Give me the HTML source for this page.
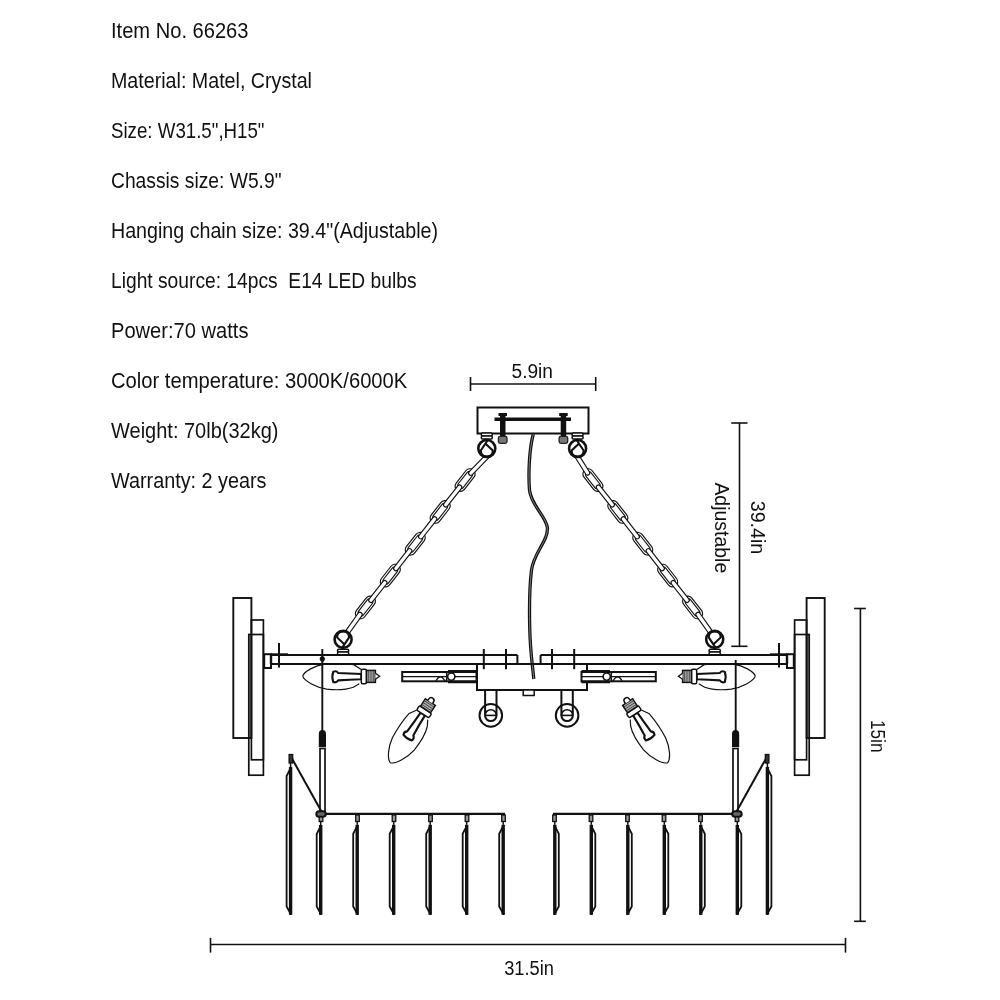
<!DOCTYPE html>
<html><head><meta charset="utf-8"><style>
html,body{margin:0;padding:0;background:#fff;width:1000px;height:1000px;overflow:hidden}
svg{display:block;will-change:transform}
text{font-family:"Liberation Sans",sans-serif;fill:#111;white-space:pre}
</style></head><body>
<svg width="1000" height="1000" viewBox="0 0 1000 1000" stroke="#111" fill="none">
<text stroke="none" x="111.0" y="37.6" font-size="22" textLength="137.5" lengthAdjust="spacingAndGlyphs">Item No. 66263</text>
<text stroke="none" x="111.0" y="87.6" font-size="22" textLength="201.0" lengthAdjust="spacingAndGlyphs">Material: Matel, Crystal</text>
<text stroke="none" x="111.0" y="137.6" font-size="22" textLength="153.5" lengthAdjust="spacingAndGlyphs">Size: W31.5&quot;,H15&quot;</text>
<text stroke="none" x="111.0" y="187.6" font-size="22" textLength="170.5" lengthAdjust="spacingAndGlyphs">Chassis size: W5.9&quot;</text>
<text stroke="none" x="111.0" y="237.6" font-size="22" textLength="327.0" lengthAdjust="spacingAndGlyphs">Hanging chain size: 39.4&quot;(Adjustable)</text>
<text stroke="none" x="111.0" y="287.6" font-size="22" textLength="305.5" lengthAdjust="spacingAndGlyphs">Light source: 14pcs  E14 LED bulbs</text>
<text stroke="none" x="111.0" y="337.6" font-size="22" textLength="137.5" lengthAdjust="spacingAndGlyphs">Power:70 watts</text>
<text stroke="none" x="111.0" y="387.6" font-size="22" textLength="296.3" lengthAdjust="spacingAndGlyphs">Color temperature: 3000K/6000K</text>
<text stroke="none" x="111.0" y="437.6" font-size="22" textLength="167.5" lengthAdjust="spacingAndGlyphs">Weight: 70lb(32kg)</text>
<text stroke="none" x="111.0" y="487.6" font-size="22" textLength="155.5" lengthAdjust="spacingAndGlyphs">Warranty: 2 years</text>
<line x1="470.5" y1="384" x2="595.7" y2="384" stroke-width="1.6"/>
<line x1="470.5" y1="377" x2="470.5" y2="391" stroke-width="1.6"/>
<line x1="595.7" y1="377" x2="595.7" y2="391" stroke-width="1.6"/>
<text stroke="none" x="511.5" y="378" font-size="19.5" textLength="41.5" lengthAdjust="spacingAndGlyphs">5.9in</text>
<line x1="739.5" y1="423" x2="739.5" y2="646.3" stroke-width="1.6"/>
<line x1="731.3" y1="423" x2="747.5" y2="423" stroke-width="1.6"/>
<line x1="731.3" y1="646.3" x2="747.5" y2="646.3" stroke-width="1.6"/>
<text stroke="none" transform="translate(750.7,500.7) rotate(90)" x="0" y="0" font-size="21" textLength="53.6" lengthAdjust="spacingAndGlyphs">39.4in</text>
<text stroke="none" transform="translate(714.5,482.4) rotate(90)" x="0" y="0" font-size="20" textLength="90.8" lengthAdjust="spacingAndGlyphs">Adjustable</text>
<line x1="860.4" y1="608.5" x2="860.4" y2="921.3" stroke-width="1.6"/>
<line x1="854.1" y1="608.5" x2="865.8" y2="608.5" stroke-width="1.6"/>
<line x1="854.1" y1="921.3" x2="865.8" y2="921.3" stroke-width="1.6"/>
<text stroke="none" transform="translate(871.1,719.9) rotate(90)" x="0" y="0" font-size="21" textLength="32.6" lengthAdjust="spacingAndGlyphs">15in</text>
<line x1="210.5" y1="944.5" x2="845.5" y2="944.5" stroke-width="1.6"/>
<line x1="210.5" y1="937.9" x2="210.5" y2="952.6" stroke-width="1.6"/>
<line x1="845.5" y1="937.9" x2="845.5" y2="952.6" stroke-width="1.6"/>
<text stroke="none" x="504.2" y="975.2" font-size="19.5" textLength="49.8" lengthAdjust="spacingAndGlyphs">31.5in</text>
<rect x="477.5" y="407.5" width="111" height="26" fill="#fff" stroke-width="2"/>
<rect x="494.5" y="417.5" width="76.5" height="3.5" fill="#111" stroke="none"/>
<rect x="500.0" y="414" width="5.5" height="22.5" fill="#111" stroke="none"/>
<rect x="498.5" y="413" width="8.5" height="3" fill="#111" stroke="none"/>
<rect x="498.4" y="436.3" width="8.6" height="7" rx="1.8" fill="#777" stroke="#222" stroke-width="1.3"/>
<rect x="560.6999999999999" y="414" width="5.5" height="22.5" fill="#111" stroke="none"/>
<rect x="559.1999999999999" y="413" width="8.5" height="3" fill="#111" stroke="none"/>
<rect x="559.1" y="436.3" width="8.6" height="7" rx="1.8" fill="#777" stroke="#222" stroke-width="1.3"/>
<g transform="translate(465.10,480.10) rotate(128.07)">
<rect x="-13" y="-5.2" width="26" height="10.4" rx="5.2" fill="#fff" stroke-width="1.15"/>
<rect x="-9.5" y="-3.1" width="19" height="6.2" rx="2.4" fill="#fff" stroke-width="1.1"/>
</g>
<g transform="translate(440.18,511.93) rotate(128.07)">
<rect x="-13" y="-5.2" width="26" height="10.4" rx="5.2" fill="#fff" stroke-width="1.15"/>
<rect x="-9.5" y="-3.1" width="19" height="6.2" rx="2.4" fill="#fff" stroke-width="1.1"/>
</g>
<g transform="translate(415.25,543.75) rotate(128.07)">
<rect x="-13" y="-5.2" width="26" height="10.4" rx="5.2" fill="#fff" stroke-width="1.15"/>
<rect x="-9.5" y="-3.1" width="19" height="6.2" rx="2.4" fill="#fff" stroke-width="1.1"/>
</g>
<g transform="translate(390.32,575.58) rotate(128.07)">
<rect x="-13" y="-5.2" width="26" height="10.4" rx="5.2" fill="#fff" stroke-width="1.15"/>
<rect x="-9.5" y="-3.1" width="19" height="6.2" rx="2.4" fill="#fff" stroke-width="1.1"/>
</g>
<g transform="translate(365.40,607.40) rotate(128.07)">
<rect x="-13" y="-5.2" width="26" height="10.4" rx="5.2" fill="#fff" stroke-width="1.15"/>
<rect x="-9.5" y="-3.1" width="19" height="6.2" rx="2.4" fill="#fff" stroke-width="1.1"/>
</g>
<g transform="translate(488.40,455.00) rotate(134.06)"><rect x="0" y="-2.2" width="27.48" height="4.4" rx="2.2" fill="#fff" stroke-width="1.15"/></g>
<g transform="translate(460.91,485.45) rotate(128.07)"><rect x="0" y="-2.2" width="26.82" height="4.4" rx="2.2" fill="#fff" stroke-width="1.15"/></g>
<g transform="translate(435.98,517.28) rotate(128.07)"><rect x="0" y="-2.2" width="26.82" height="4.4" rx="2.2" fill="#fff" stroke-width="1.15"/></g>
<g transform="translate(411.06,549.10) rotate(128.07)"><rect x="0" y="-2.2" width="26.82" height="4.4" rx="2.2" fill="#fff" stroke-width="1.15"/></g>
<g transform="translate(386.13,580.93) rotate(128.07)"><rect x="0" y="-2.2" width="26.82" height="4.4" rx="2.2" fill="#fff" stroke-width="1.15"/></g>
<g transform="translate(361.21,612.75) rotate(125.33)"><rect x="0" y="-2.2" width="25.43" height="4.4" rx="2.2" fill="#fff" stroke-width="1.15"/></g>
<g transform="translate(592.90,480.10) rotate(51.93)">
<rect x="-13" y="-5.2" width="26" height="10.4" rx="5.2" fill="#fff" stroke-width="1.15"/>
<rect x="-9.5" y="-3.1" width="19" height="6.2" rx="2.4" fill="#fff" stroke-width="1.1"/>
</g>
<g transform="translate(617.83,511.93) rotate(51.93)">
<rect x="-13" y="-5.2" width="26" height="10.4" rx="5.2" fill="#fff" stroke-width="1.15"/>
<rect x="-9.5" y="-3.1" width="19" height="6.2" rx="2.4" fill="#fff" stroke-width="1.1"/>
</g>
<g transform="translate(642.75,543.75) rotate(51.93)">
<rect x="-13" y="-5.2" width="26" height="10.4" rx="5.2" fill="#fff" stroke-width="1.15"/>
<rect x="-9.5" y="-3.1" width="19" height="6.2" rx="2.4" fill="#fff" stroke-width="1.1"/>
</g>
<g transform="translate(667.67,575.58) rotate(51.93)">
<rect x="-13" y="-5.2" width="26" height="10.4" rx="5.2" fill="#fff" stroke-width="1.15"/>
<rect x="-9.5" y="-3.1" width="19" height="6.2" rx="2.4" fill="#fff" stroke-width="1.1"/>
</g>
<g transform="translate(692.60,607.40) rotate(51.93)">
<rect x="-13" y="-5.2" width="26" height="10.4" rx="5.2" fill="#fff" stroke-width="1.15"/>
<rect x="-9.5" y="-3.1" width="19" height="6.2" rx="2.4" fill="#fff" stroke-width="1.1"/>
</g>
<g transform="translate(576.20,455.00) rotate(57.65)"><rect x="0" y="-2.2" width="23.37" height="4.4" rx="2.2" fill="#fff" stroke-width="1.15"/></g>
<g transform="translate(597.09,485.45) rotate(51.93)"><rect x="0" y="-2.2" width="26.82" height="4.4" rx="2.2" fill="#fff" stroke-width="1.15"/></g>
<g transform="translate(622.02,517.28) rotate(51.93)"><rect x="0" y="-2.2" width="26.82" height="4.4" rx="2.2" fill="#fff" stroke-width="1.15"/></g>
<g transform="translate(646.94,549.10) rotate(51.93)"><rect x="0" y="-2.2" width="26.82" height="4.4" rx="2.2" fill="#fff" stroke-width="1.15"/></g>
<g transform="translate(671.87,580.93) rotate(51.93)"><rect x="0" y="-2.2" width="26.82" height="4.4" rx="2.2" fill="#fff" stroke-width="1.15"/></g>
<g transform="translate(696.79,612.75) rotate(54.67)"><rect x="0" y="-2.2" width="25.43" height="4.4" rx="2.2" fill="#fff" stroke-width="1.15"/></g>
<g transform="translate(486.8,448.5) scale(1,1) translate(-486.8,-448.5)">
<rect x="481.3" y="433.0" width="11" height="3" rx="1.2" fill="#fff" stroke-width="1.5"/>
<rect x="481.3" y="436.0" width="11" height="3" rx="1.2" fill="#fff" stroke-width="1.5"/>
<circle cx="486.8" cy="448.5" r="8.5" fill="#fff" stroke-width="2.6"/>
<path d="M487.8,440.0 L480.8,450.5 Q480.8,456.5 486.8,456.5 Q492.8,456.5 492.8,450.5 L485.3,443.5" fill="none" stroke-width="2.1"/>
</g>
<g transform="translate(577.6,448.5) scale(-1,1) translate(-577.6,-448.5)">
<rect x="572.1" y="433.0" width="11" height="3" rx="1.2" fill="#fff" stroke-width="1.5"/>
<rect x="572.1" y="436.0" width="11" height="3" rx="1.2" fill="#fff" stroke-width="1.5"/>
<circle cx="577.6" cy="448.5" r="8.5" fill="#fff" stroke-width="2.6"/>
<path d="M578.6,440.0 L571.6,450.5 Q571.6,456.5 577.6,456.5 Q583.6,456.5 583.6,450.5 L576.1,443.5" fill="none" stroke-width="2.1"/>
</g>
<g transform="translate(343.1,639.4) scale(1,1) translate(-343.1,-639.4)">
<rect x="337.5" y="649.1999999999999" width="11.2" height="2.9" rx="1.2" fill="#fff" stroke-width="1.5"/>
<rect x="337.5" y="652.0999999999999" width="11.2" height="2.9" rx="1.2" fill="#fff" stroke-width="1.5"/>
<circle cx="343.1" cy="639.4" r="8.5" fill="#fff" stroke-width="2.6"/>
<path d="M342.1,647.9 L349.1,637.4 Q349.1,631.4 343.1,631.4 Q337.1,631.4 337.1,637.4 L344.6,644.4" fill="none" stroke-width="2.1"/>
</g>
<g transform="translate(714.7,639.4) scale(-1,1) translate(-714.7,-639.4)">
<rect x="709.1" y="649.1999999999999" width="11.2" height="2.9" rx="1.2" fill="#fff" stroke-width="1.5"/>
<rect x="709.1" y="652.0999999999999" width="11.2" height="2.9" rx="1.2" fill="#fff" stroke-width="1.5"/>
<circle cx="714.7" cy="639.4" r="8.5" fill="#fff" stroke-width="2.6"/>
<path d="M713.7,647.9 L720.7,637.4 Q720.7,631.4 714.7,631.4 Q708.7,631.4 708.7,637.4 L716.2,644.4" fill="none" stroke-width="2.1"/>
</g>
<rect x="477" y="664" width="110" height="26" fill="#fff" stroke-width="2"/>
<rect x="523.2" y="690" width="11" height="5.5" fill="#fff" stroke-width="1.5"/>
<circle cx="490.8" cy="715.4" r="11.3" fill="#fff" stroke-width="2"/>
<path d="M485.1,691 L485.1,715.4 A5.7,5.7 0 0 0 496.5,715.4 L496.5,691" fill="none" stroke-width="2"/>
<path d="M485.1,715.4 A5.7,5.7 0 0 1 496.5,715.4" fill="none" stroke-width="1.6"/>
<line x1="485.1" y1="715.4" x2="496.5" y2="715.4" stroke-width="1.6"/>
<circle cx="567.1" cy="715.4" r="11.3" fill="#fff" stroke-width="2"/>
<path d="M561.4,691 L561.4,715.4 A5.7,5.7 0 0 0 572.8000000000001,715.4 L572.8000000000001,691" fill="none" stroke-width="2"/>
<path d="M561.4,715.4 A5.7,5.7 0 0 1 572.8000000000001,715.4" fill="none" stroke-width="1.6"/>
<line x1="561.4" y1="715.4" x2="572.8000000000001" y2="715.4" stroke-width="1.6"/>
<path d="M533.3,434 C529,450 528.3,475 529.5,490 C531,505 545,515 547.3,527 C549,540 534,552 531.5,570 C528.5,595 529.5,630 530.5,645 C531.5,660 533,670 533.8,679" fill="none" stroke-width="3.3"/><path d="M533.3,434 C529,450 528.3,475 529.5,490 C531,505 545,515 547.3,527 C549,540 534,552 531.5,570 C528.5,595 529.5,630 530.5,645 C531.5,660 533,670 533.8,679" fill="none" stroke="#999" stroke-width="0.8"/>
<g><line x1="271" y1="655" x2="517.4" y2="655" stroke-width="2"/><line x1="271" y1="664" x2="529" y2="664" stroke-width="2"/><line x1="517.4" y1="655" x2="517.4" y2="664" stroke-width="2"/><rect x="271" y="653.3" width="17" height="2.6" fill="#111" stroke="none"/><rect x="264.2" y="654.2" width="6.8" height="13.8" fill="#fff" stroke-width="2"/><line x1="271" y1="655" x2="271" y2="664" stroke-width="2.4"/><line x1="279" y1="643" x2="279" y2="667.5" stroke-width="2"/><line x1="483.8" y1="649" x2="483.8" y2="669.2" stroke-width="2"/><line x1="506" y1="649" x2="506" y2="669.2" stroke-width="2"/><rect x="249" y="635" width="2.5" height="103" fill="#aaa" stroke="none"/><rect x="233.3" y="598" width="18.1" height="140" fill="none" stroke-width="1.9"/><rect x="248.8" y="634.5" width="14.6" height="140.7" fill="none" stroke-width="1.7"/><rect x="251.4" y="620" width="12" height="139.8" fill="none" stroke-width="1.7"/><rect x="402.2" y="672" width="74.3" height="9.3" fill="#fff" stroke-width="2"/><line x1="402.2" y1="676.6" x2="476.5" y2="676.6" stroke-width="1.4"/><path d="M448,671.3 L476.5,671.3 M448,682 L476.5,682" stroke-width="2.6"/><path d="M446,682 Q448,676.6 446,671.3" fill="none" stroke-width="1.6"/><circle cx="451.3" cy="676.6" r="3.6" fill="#fff" stroke-width="1.6"/><path d="M436,680.8 Q440,673 445,680.8" fill="none" stroke-width="1.4"/><line x1="322.3" y1="660" x2="322.3" y2="731" stroke-width="1.9"/><path d="M318.8,747 L318.8,734 Q318.8,730 322.4,730 Q326,730 326,734 L326,747 Z" fill="#111" stroke="none"/><rect x="320" y="748.5" width="5" height="64.5" fill="#fff" stroke-width="1.7"/><line x1="316" y1="813.8" x2="505" y2="813.8" stroke-width="2.3"/><line x1="290.6" y1="756" x2="322.3" y2="813" stroke-width="2"/><rect x="316.3" y="811.2" width="9.5" height="5.6" rx="2.8" fill="#666" stroke-width="2"/><rect x="319.2" y="817" width="3.6" height="4.5" fill="#999" stroke-width="1.3"/><line x1="320.7" y1="821.5" x2="320.7" y2="825" stroke-width="1.5"/><path d="M321.3,825 L316.7,834 L316.7,906.4 L321.3,914.8" fill="none" stroke-width="1.8"/><line x1="320.7" y1="825" x2="320.7" y2="914.8" stroke-width="3.4"/><rect x="355.7" y="815" width="3.6" height="6.5" fill="#999" stroke-width="1.3"/><line x1="357.2" y1="821.5" x2="357.2" y2="824.8" stroke-width="1.5"/><path d="M357.8,824.8 L353.2,833.8 L353.2,906.4 L357.8,914.8" fill="none" stroke-width="1.8"/><line x1="357.2" y1="824.8" x2="357.2" y2="914.8" stroke-width="3.4"/><rect x="392.2" y="815" width="3.6" height="6.5" fill="#999" stroke-width="1.3"/><line x1="393.7" y1="821.5" x2="393.7" y2="824.8" stroke-width="1.5"/><path d="M394.3,824.8 L389.7,833.8 L389.7,906.4 L394.3,914.8" fill="none" stroke-width="1.8"/><line x1="393.7" y1="824.8" x2="393.7" y2="914.8" stroke-width="3.4"/><rect x="428.7" y="815" width="3.6" height="6.5" fill="#999" stroke-width="1.3"/><line x1="430.2" y1="821.5" x2="430.2" y2="824.8" stroke-width="1.5"/><path d="M430.8,824.8 L426.2,833.8 L426.2,906.4 L430.8,914.8" fill="none" stroke-width="1.8"/><line x1="430.2" y1="824.8" x2="430.2" y2="914.8" stroke-width="3.4"/><rect x="465.2" y="815" width="3.6" height="6.5" fill="#999" stroke-width="1.3"/><line x1="466.7" y1="821.5" x2="466.7" y2="824.8" stroke-width="1.5"/><path d="M467.3,824.8 L462.7,833.8 L462.7,906.4 L467.3,914.8" fill="none" stroke-width="1.8"/><line x1="466.7" y1="824.8" x2="466.7" y2="914.8" stroke-width="3.4"/><rect x="501.7" y="815" width="3.6" height="6.5" fill="#999" stroke-width="1.3"/><line x1="503.2" y1="821.5" x2="503.2" y2="824.8" stroke-width="1.5"/><path d="M503.8,824.8 L499.2,833.8 L499.2,906.4 L503.8,914.8" fill="none" stroke-width="1.8"/><line x1="503.2" y1="824.8" x2="503.2" y2="914.8" stroke-width="3.4"/><rect x="289.09999999999997" y="754.5" width="3.6" height="8.5" fill="#333" stroke-width="1.3"/><line x1="290.59999999999997" y1="763" x2="290.59999999999997" y2="767" stroke-width="1.5"/><path d="M291.2,767 L286.59999999999997,776 L286.59999999999997,906.4 L291.2,914.8" fill="none" stroke-width="1.8"/><line x1="290.59999999999997" y1="767" x2="290.59999999999997" y2="914.8" stroke-width="3.4"/><g transform="translate(302.7,676.2) rotate(0) scale(1,1)"><path d="M0,0 C1.5,-5 12,-10.5 22,-12 C32,-13 44,-12.5 51,-11.5 L58.6,-6.8 M0,0 C1.5,5 14,11.5 24,13 C34,14 44,13.5 50.6,11 L56.6,7.6" fill="none" stroke-width="1.2"/><path d="M30.5,-4.3 Q28.8,0.5 30.5,5.8 Q33.5,7 35.5,4.2 Q47,3.2 58.6,3 L58.6,-2.2 Q47,-2.5 35.5,-3.2 Q33.5,-6 30.5,-4.3 Z" fill="#fff" stroke-width="2.1"/><rect x="58.6" y="-7" width="5.2" height="14.6" rx="1.5" fill="#fff" stroke-width="1.5"/><rect x="63.8" y="-5.8" width="8.9" height="12" fill="#aaa" stroke-width="1.5"/><path d="M66,-5.5 V6 M68.3,-5.5 V6 M70.6,-5.5 V6" stroke="#444" stroke-width="0.9"/><path d="M72.7,-3 L76.9,0 L72.7,3" fill="#fff" stroke-width="1.3"/></g><g transform="translate(390.4,762.8) rotate(-56.8) scale(1,1)"><path d="M0,0 C1.5,-5 12,-10.5 22,-12 C32,-13 44,-12.5 51,-11.5 L58.6,-6.8 M0,0 C1.5,5 14,11.5 24,13 C34,14 44,13.5 50.6,11 L56.6,7.6" fill="none" stroke-width="1.2"/><path d="M30.5,-4.3 Q28.8,0.5 30.5,5.8 Q33.5,7 35.5,4.2 Q47,3.2 58.6,3 L58.6,-2.2 Q47,-2.5 35.5,-3.2 Q33.5,-6 30.5,-4.3 Z" fill="#fff" stroke-width="2.1"/><rect x="58.6" y="-7" width="5.2" height="14.6" rx="1.5" fill="#fff" stroke-width="1.5"/><rect x="63.8" y="-5.8" width="8.9" height="12" fill="#aaa" stroke-width="1.5"/><path d="M66,-5.5 V6 M68.3,-5.5 V6 M70.6,-5.5 V6" stroke="#444" stroke-width="0.9"/><path d="M72.7,-2.8 L74.5,-2.8 A2.8,2.8 0 0 1 74.5,2.8 L72.7,2.8" fill="#fff" stroke-width="1.5"/></g></g>
<line x1="322.3" y1="649" x2="322.3" y2="662" stroke-width="1.9"/><circle cx="322.3" cy="658.8" r="2.6" fill="#111" stroke="none"/>
<g transform="translate(1058,0) scale(-1,1)"><line x1="271" y1="655" x2="517.4" y2="655" stroke-width="2"/><line x1="271" y1="664" x2="529" y2="664" stroke-width="2"/><line x1="517.4" y1="655" x2="517.4" y2="664" stroke-width="2"/><rect x="271" y="653.3" width="17" height="2.6" fill="#111" stroke="none"/><rect x="264.2" y="654.2" width="6.8" height="13.8" fill="#fff" stroke-width="2"/><line x1="271" y1="655" x2="271" y2="664" stroke-width="2.4"/><line x1="279" y1="643" x2="279" y2="667.5" stroke-width="2"/><line x1="483.8" y1="649" x2="483.8" y2="669.2" stroke-width="2"/><line x1="506" y1="649" x2="506" y2="669.2" stroke-width="2"/><rect x="249" y="635" width="2.5" height="103" fill="#aaa" stroke="none"/><rect x="233.3" y="598" width="18.1" height="140" fill="none" stroke-width="1.9"/><rect x="248.8" y="634.5" width="14.6" height="140.7" fill="none" stroke-width="1.7"/><rect x="251.4" y="620" width="12" height="139.8" fill="none" stroke-width="1.7"/><rect x="402.2" y="672" width="74.3" height="9.3" fill="#fff" stroke-width="2"/><line x1="402.2" y1="676.6" x2="476.5" y2="676.6" stroke-width="1.4"/><path d="M448,671.3 L476.5,671.3 M448,682 L476.5,682" stroke-width="2.6"/><path d="M446,682 Q448,676.6 446,671.3" fill="none" stroke-width="1.6"/><circle cx="451.3" cy="676.6" r="3.6" fill="#fff" stroke-width="1.6"/><path d="M436,680.8 Q440,673 445,680.8" fill="none" stroke-width="1.4"/><line x1="322.3" y1="660" x2="322.3" y2="731" stroke-width="1.9"/><path d="M318.8,747 L318.8,734 Q318.8,730 322.4,730 Q326,730 326,734 L326,747 Z" fill="#111" stroke="none"/><rect x="320" y="748.5" width="5" height="64.5" fill="#fff" stroke-width="1.7"/><line x1="316" y1="813.8" x2="505" y2="813.8" stroke-width="2.3"/><line x1="290.6" y1="756" x2="322.3" y2="813" stroke-width="2"/><rect x="316.3" y="811.2" width="9.5" height="5.6" rx="2.8" fill="#666" stroke-width="2"/><rect x="319.2" y="817" width="3.6" height="4.5" fill="#999" stroke-width="1.3"/><line x1="320.7" y1="821.5" x2="320.7" y2="825" stroke-width="1.5"/><path d="M321.3,825 L316.7,834 L316.7,906.4 L321.3,914.8" fill="none" stroke-width="1.8"/><line x1="320.7" y1="825" x2="320.7" y2="914.8" stroke-width="3.4"/><rect x="355.7" y="815" width="3.6" height="6.5" fill="#999" stroke-width="1.3"/><line x1="357.2" y1="821.5" x2="357.2" y2="824.8" stroke-width="1.5"/><path d="M357.8,824.8 L353.2,833.8 L353.2,906.4 L357.8,914.8" fill="none" stroke-width="1.8"/><line x1="357.2" y1="824.8" x2="357.2" y2="914.8" stroke-width="3.4"/><rect x="392.2" y="815" width="3.6" height="6.5" fill="#999" stroke-width="1.3"/><line x1="393.7" y1="821.5" x2="393.7" y2="824.8" stroke-width="1.5"/><path d="M394.3,824.8 L389.7,833.8 L389.7,906.4 L394.3,914.8" fill="none" stroke-width="1.8"/><line x1="393.7" y1="824.8" x2="393.7" y2="914.8" stroke-width="3.4"/><rect x="428.7" y="815" width="3.6" height="6.5" fill="#999" stroke-width="1.3"/><line x1="430.2" y1="821.5" x2="430.2" y2="824.8" stroke-width="1.5"/><path d="M430.8,824.8 L426.2,833.8 L426.2,906.4 L430.8,914.8" fill="none" stroke-width="1.8"/><line x1="430.2" y1="824.8" x2="430.2" y2="914.8" stroke-width="3.4"/><rect x="465.2" y="815" width="3.6" height="6.5" fill="#999" stroke-width="1.3"/><line x1="466.7" y1="821.5" x2="466.7" y2="824.8" stroke-width="1.5"/><path d="M467.3,824.8 L462.7,833.8 L462.7,906.4 L467.3,914.8" fill="none" stroke-width="1.8"/><line x1="466.7" y1="824.8" x2="466.7" y2="914.8" stroke-width="3.4"/><rect x="501.7" y="815" width="3.6" height="6.5" fill="#999" stroke-width="1.3"/><line x1="503.2" y1="821.5" x2="503.2" y2="824.8" stroke-width="1.5"/><path d="M503.8,824.8 L499.2,833.8 L499.2,906.4 L503.8,914.8" fill="none" stroke-width="1.8"/><line x1="503.2" y1="824.8" x2="503.2" y2="914.8" stroke-width="3.4"/><rect x="289.09999999999997" y="754.5" width="3.6" height="8.5" fill="#333" stroke-width="1.3"/><line x1="290.59999999999997" y1="763" x2="290.59999999999997" y2="767" stroke-width="1.5"/><path d="M291.2,767 L286.59999999999997,776 L286.59999999999997,906.4 L291.2,914.8" fill="none" stroke-width="1.8"/><line x1="290.59999999999997" y1="767" x2="290.59999999999997" y2="914.8" stroke-width="3.4"/><g transform="translate(302.7,676.2) rotate(0) scale(1,1)"><path d="M0,0 C1.5,-5 12,-10.5 22,-12 C32,-13 44,-12.5 51,-11.5 L58.6,-6.8 M0,0 C1.5,5 14,11.5 24,13 C34,14 44,13.5 50.6,11 L56.6,7.6" fill="none" stroke-width="1.2"/><path d="M30.5,-4.3 Q28.8,0.5 30.5,5.8 Q33.5,7 35.5,4.2 Q47,3.2 58.6,3 L58.6,-2.2 Q47,-2.5 35.5,-3.2 Q33.5,-6 30.5,-4.3 Z" fill="#fff" stroke-width="2.1"/><rect x="58.6" y="-7" width="5.2" height="14.6" rx="1.5" fill="#fff" stroke-width="1.5"/><rect x="63.8" y="-5.8" width="8.9" height="12" fill="#aaa" stroke-width="1.5"/><path d="M66,-5.5 V6 M68.3,-5.5 V6 M70.6,-5.5 V6" stroke="#444" stroke-width="0.9"/><path d="M72.7,-3 L76.9,0 L72.7,3" fill="#fff" stroke-width="1.3"/></g><g transform="translate(390.4,762.8) rotate(-56.8) scale(1,1)"><path d="M0,0 C1.5,-5 12,-10.5 22,-12 C32,-13 44,-12.5 51,-11.5 L58.6,-6.8 M0,0 C1.5,5 14,11.5 24,13 C34,14 44,13.5 50.6,11 L56.6,7.6" fill="none" stroke-width="1.2"/><path d="M30.5,-4.3 Q28.8,0.5 30.5,5.8 Q33.5,7 35.5,4.2 Q47,3.2 58.6,3 L58.6,-2.2 Q47,-2.5 35.5,-3.2 Q33.5,-6 30.5,-4.3 Z" fill="#fff" stroke-width="2.1"/><rect x="58.6" y="-7" width="5.2" height="14.6" rx="1.5" fill="#fff" stroke-width="1.5"/><rect x="63.8" y="-5.8" width="8.9" height="12" fill="#aaa" stroke-width="1.5"/><path d="M66,-5.5 V6 M68.3,-5.5 V6 M70.6,-5.5 V6" stroke="#444" stroke-width="0.9"/><path d="M72.7,-2.8 L74.5,-2.8 A2.8,2.8 0 0 1 74.5,2.8 L72.7,2.8" fill="#fff" stroke-width="1.5"/></g></g>
</svg>
</body></html>
